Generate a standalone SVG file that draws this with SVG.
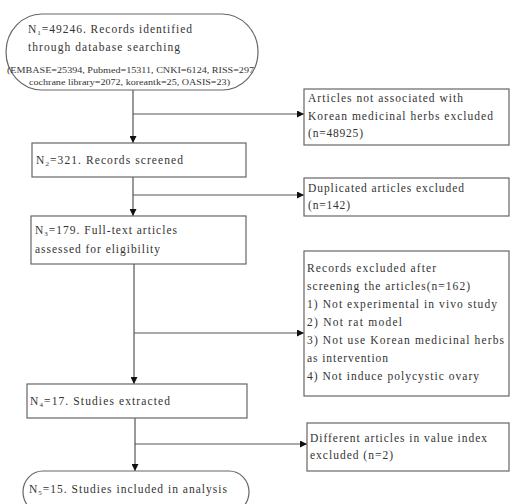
<svg xmlns="http://www.w3.org/2000/svg" width="518" height="504" viewBox="0 0 518 504">
<style>
.box{fill:#fff;stroke:#666;stroke-width:1.2}
.t{font-family:"Liberation Serif",serif;font-size:11.5px;fill:#333}
.s{font-family:"Liberation Serif",serif;font-size:9px;fill:#333}
.sub{font-size:7px}
.c line{stroke:#555;stroke-width:1.2;fill:none}
</style>
<defs>
<marker id="ah" viewBox="0 0 10 10" refX="10" refY="5" markerWidth="7" markerHeight="7" markerUnits="userSpaceOnUse" orient="auto">
<path d="M0,0 L10,5 L0,10 Z" fill="#111"/>
</marker>
</defs>
<rect width="518" height="504" fill="#fff"/>
<g class="c">
<line x1="133" y1="90" x2="133" y2="143" marker-end="url(#ah)"/>
<line x1="133" y1="114" x2="304" y2="114" marker-end="url(#ah)"/>
<line x1="133" y1="177" x2="133" y2="216" marker-end="url(#ah)"/>
<line x1="133" y1="195" x2="304" y2="195" marker-end="url(#ah)"/>
<line x1="134" y1="264" x2="134" y2="384" marker-end="url(#ah)"/>
<line x1="134" y1="333" x2="304" y2="333" marker-end="url(#ah)"/>
<line x1="135" y1="418" x2="135" y2="471" marker-end="url(#ah)"/>
<line x1="135" y1="444" x2="307" y2="444" marker-end="url(#ah)"/>
</g>
<g id="n1">
<rect class="box" x="6" y="14" width="252" height="76" rx="36" ry="38"/>
<text class="t" x="28" y="33" textLength="164" lengthAdjust="spacing">N<tspan class="sub" dy="2">1</tspan><tspan dy="-2">=49246. Records identified</tspan></text>
<text class="t" x="28" y="51" textLength="152" lengthAdjust="spacing">through database searching</text>
<text class="s" x="7" y="73" textLength="247" lengthAdjust="spacingAndGlyphs">(EMBASE=25394, Pubmed=15311, CNKI=6124, RISS=297</text>
<text class="s" x="29" y="85" textLength="201" lengthAdjust="spacingAndGlyphs">cochrane library=2072, koreantk=25, OASIS=23)</text>
</g>
<g id="ex1">
<rect class="box" x="304" y="89" width="205" height="56"/>
<text class="t" x="308" y="102" textLength="155" lengthAdjust="spacing">Articles not associated with</text>
<text class="t" x="308" y="120" textLength="185" lengthAdjust="spacing">Korean medicinal herbs excluded</text>
<text class="t" x="308" y="137" textLength="55" lengthAdjust="spacing">(n=48925)</text>
</g>
<g id="n2">
<rect class="box" x="32" y="143" width="214" height="34"/>
<text class="t" x="36" y="164" textLength="147" lengthAdjust="spacing">N<tspan class="sub" dy="2">2</tspan><tspan dy="-2">=321. Records screened</tspan></text>
</g>
<g id="ex2">
<rect class="box" x="304" y="178" width="205" height="38"/>
<text class="t" x="308" y="192" textLength="156" lengthAdjust="spacing">Duplicated articles excluded</text>
<text class="t" x="308" y="209" textLength="42" lengthAdjust="spacing">(n=142)</text>
</g>
<g id="n3">
<rect class="box" x="31" y="216" width="215" height="48"/>
<text class="t" x="35" y="234" textLength="142" lengthAdjust="spacing">N<tspan class="sub" dy="2">3</tspan><tspan dy="-2">=179. Full-text articles</tspan></text>
<text class="t" x="35" y="253" textLength="125" lengthAdjust="spacing">assessed for eligibility</text>
</g>
<g id="ex3">
<rect class="box" x="304" y="251" width="205" height="145"/>
<text class="t" x="307" y="272" textLength="129" lengthAdjust="spacing">Records excluded after</text>
<text class="t" x="307" y="290" textLength="163" lengthAdjust="spacing">screening the articles(n=162)</text>
<text class="t" x="307" y="308" textLength="190" lengthAdjust="spacing">1) Not experimental in vivo study</text>
<text class="t" x="307" y="326" textLength="95" lengthAdjust="spacing">2) Not rat model</text>
<text class="t" x="307" y="344" textLength="197" lengthAdjust="spacing">3) Not use Korean medicinal herbs</text>
<text class="t" x="307" y="362" textLength="81" lengthAdjust="spacing">as intervention</text>
<text class="t" x="307" y="380" textLength="172" lengthAdjust="spacing">4) Not induce polycystic ovary</text>
</g>
<g id="n4">
<rect class="box" x="27" y="384" width="220" height="34"/>
<text class="t" x="30" y="405" textLength="140" lengthAdjust="spacing">N<tspan class="sub" dy="2">4</tspan><tspan dy="-2">=17. Studies extracted</tspan></text>
</g>
<g id="ex4">
<rect class="box" x="307" y="423" width="202" height="48"/>
<text class="t" x="310" y="442" textLength="177" lengthAdjust="spacing">Different articles in value index</text>
<text class="t" x="310" y="459" textLength="83" lengthAdjust="spacing">excluded (n=2)</text>
</g>
<g id="n5">
<rect class="box" x="23" y="471" width="226" height="42" rx="20" ry="21"/>
<text class="t" x="29" y="493" textLength="198" lengthAdjust="spacing">N<tspan class="sub" dy="2">5</tspan><tspan dy="-2">=15. Studies included in analysis</tspan></text>
</g>
</svg>
